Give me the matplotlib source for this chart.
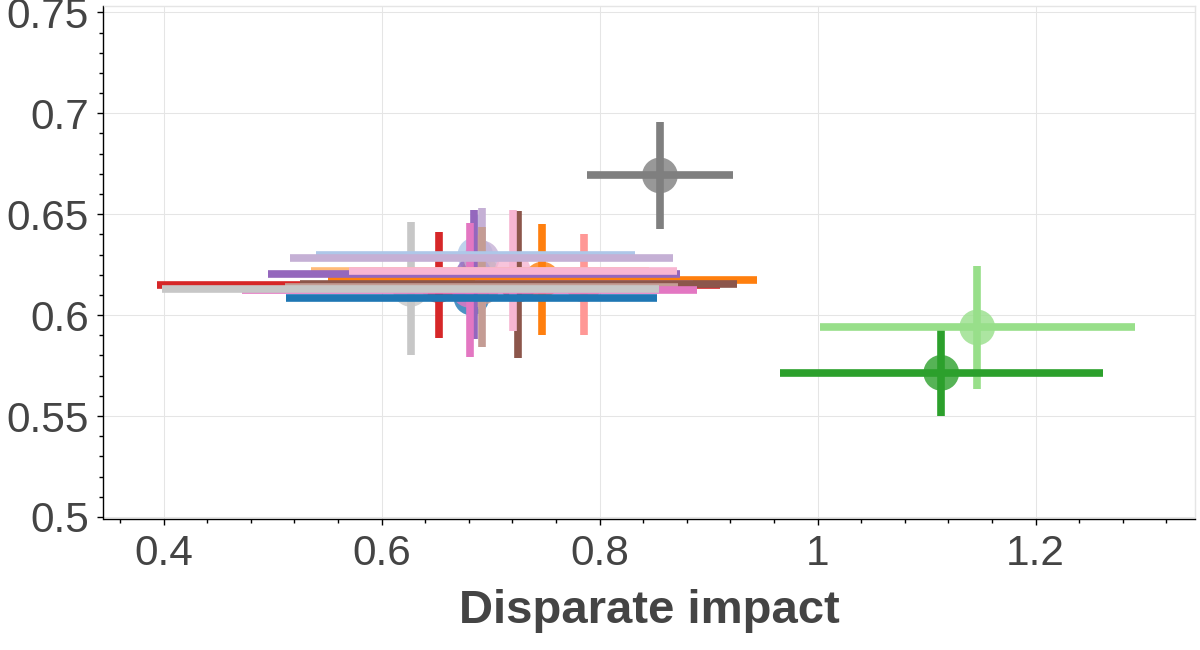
"""Disparate impact vs accuracy crosses (tab20 colours)."""

import matplotlib
matplotlib.use("Agg")
import matplotlib.pyplot as plt
from matplotlib.ticker import MultipleLocator, FuncFormatter

# --- data ---
colors = [
    "#1f77b4", "#aec7e8", "#ff7f0e", "#ffbb78",
    "#2ca02c", "#98df8a", "#d62728", "#ff9896",
    "#9467bd", "#c5b0d5", "#8c564b", "#c49c94",
    "#e377c2", "#f7b6d2", "#7f7f7f", "#c7c7c7",
]
x_mean = [0.6824, 0.6859, 0.7473, 0.6900, 1.1134, 1.1464, 0.6523, 0.7853,
          0.6844, 0.6917, 0.7253, 0.6917, 0.6807, 0.7202, 0.8553, 0.6266]
y_mean = [0.6087, 0.6297, 0.6176, 0.6218, 0.5714, 0.5939, 0.6149, 0.6152,
          0.6202, 0.6281, 0.6152, 0.6139, 0.6125, 0.6221, 0.6692, 0.6130]
x_err = [0.170, 0.1464, 0.1967, 0.155, 0.148, 0.1445, 0.258, 0.100,
         0.189, 0.176, 0.2004, 0.180, 0.2087, 0.1505, 0.067, 0.228]
y_err = [0.020, 0.020, 0.0275, 0.018, 0.0216, 0.0305, 0.0264, 0.0252,
         0.0318, 0.0252, 0.0363, 0.0299, 0.0332, 0.0299, 0.0263, 0.0329]

TEXT = "#444444"
GRID = "#e5e5e5"

fig = plt.figure(figsize=(12, 6.5), dpi=100)
ax = fig.add_axes([0.08625, 0.2008, 0.9096, 0.7904])

# circles under everything, then vertical whiskers, then horizontal ones
ax.scatter(x_mean, y_mean, s=660, c=colors, alpha=0.8, edgecolors="none", zorder=2)
for xm, ym, ye, c in zip(x_mean, y_mean, y_err, colors):
    ax.errorbar(xm, ym, yerr=ye, fmt="none", ecolor=c, elinewidth=5.5, capsize=0, zorder=3)
for xm, ym, xe, c in zip(x_mean, y_mean, x_err, colors):
    ax.errorbar(xm, ym, xerr=xe, fmt="none", ecolor=c, elinewidth=5.5, capsize=0, zorder=4)

ax.set_xlim(0.3448, 1.3462)
ax.set_ylim(0.49876, 0.75327)

ax.xaxis.set_major_locator(MultipleLocator(0.2))
ax.xaxis.set_minor_locator(MultipleLocator(0.04))
ax.yaxis.set_major_locator(MultipleLocator(0.05))
ax.yaxis.set_minor_locator(MultipleLocator(0.01))
fmt = FuncFormatter(lambda v, _: f"{v:g}")
ax.xaxis.set_major_formatter(fmt)
ax.yaxis.set_major_formatter(fmt)

ax.grid(True, which="major", color=GRID, linewidth=0.75, zorder=0)
ax.set_axisbelow(True)

for side in ("left", "bottom"):
    ax.spines[side].set_color("black")
    ax.spines[side].set_linewidth(1.0)
for side in ("top", "right"):
    ax.spines[side].set_color(GRID)
    ax.spines[side].set_linewidth(1.0)

ax.tick_params(which="major", direction="out", length=4.5, width=1.0, color="black",
               labelsize=30.5, labelcolor=TEXT)
ax.tick_params(which="minor", direction="out", length=3, width=1.0, color="black")
ax.tick_params(axis="x", which="major", pad=6)
ax.tick_params(axis="y", which="major", pad=6)

for lab in ax.get_xticklabels() + ax.get_yticklabels():
    lab.set_family(["Liberation Sans", "DejaVu Sans"])

ax.set_xlabel("Disparate impact", fontsize=34, fontweight="bold", color=TEXT,
              family=["Liberation Sans", "DejaVu Sans"], labelpad=11)

fig.savefig("out.png", dpi=100)
plt.close(fig)
